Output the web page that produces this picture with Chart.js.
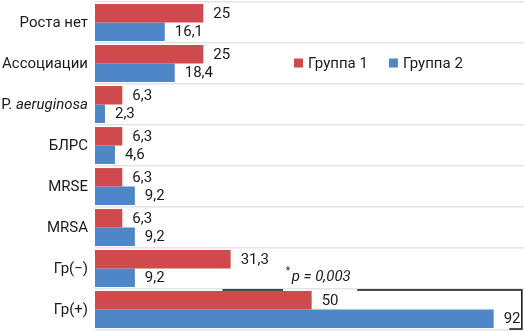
<!DOCTYPE html>
<html>
<head>
<meta charset="utf-8">
<script src="https://cdn.jsdelivr.net/npm/chart.js@4"></script>
<style>
html,body{margin:0;padding:0;background:#fff;}
#wrap{position:relative;width:524px;height:332px;}
</style>
</head>
<body>
<div id="wrap"><canvas id="c" width="524" height="332"></canvas></div>
<script>
const categories = ['Роста нет', 'Ассоциации', 'P. aeruginosa', 'БЛРС', 'MRSE', 'MRSA', 'Гр(−)', 'Гр(+)'];
const italicWords = ['aeruginosa'];
const seriesNames = ['Группа 1', 'Группа 2'];
const group1 = [25, 25, 6.3, 6.3, 6.3, 6.3, 31.3, 50];
const group2 = [16.1, 18.4, 2.3, 4.6, 9.2, 9.2, 9.2, 92];
const pNote = 'p = 0,003';

const FONT = 'Roboto, sans-serif';
const RED = '#d0494d';
const BLUE = '#4f86c8';

const fmt = v => String(v).replace('.', ',');

const yLabelPlugin = {
  id: 'yLabels',
  afterDraw(chart) {
    const ctx = chart.ctx, ys = chart.scales.y;
    ctx.save();
    ctx.fillStyle = '#1a1a1a';
    ctx.textBaseline = 'middle';
    const right = ys.right - 7;
    categories.forEach((lab, i) => {
      const y = ys.getPixelForValue(i) + 1;
      const parts = [];
      let rest = lab;
      italicWords.forEach(w => {
        const k = rest.indexOf(w);
        if (k >= 0) { parts.push([rest.slice(0, k), false]); parts.push([w, true]); rest = rest.slice(k + w.length); }
      });
      if (rest) parts.push([rest, false]);
      let total = 0;
      parts.forEach(p => { ctx.font = (p[1] ? 'italic ' : '') + '15px ' + FONT; total += ctx.measureText(p[0]).width; });
      let x = right - total;
      ctx.textAlign = 'left';
      parts.forEach(p => { ctx.font = (p[1] ? 'italic ' : '') + '15px ' + FONT; ctx.fillText(p[0], x, y); x += ctx.measureText(p[0]).width; });
    });
    ctx.restore();
  }
};

const valueLabelPlugin = {
  id: 'valueLabels',
  afterDatasetsDraw(chart) {
    const ctx = chart.ctx;
    ctx.save();
    ctx.font = '15px ' + FONT;
    ctx.fillStyle = '#1a1a1a';
    ctx.textAlign = 'left';
    ctx.textBaseline = 'middle';
    chart.data.datasets.forEach((ds, di) => {
      chart.getDatasetMeta(di).data.forEach((bar, i) => {
        ctx.fillText(fmt(ds.data[i]), bar.x + 10, bar.y + 1);
      });
    });
    ctx.restore();
  }
};

const legendPlugin = {
  id: 'innerLegend',
  afterDraw(chart) {
    const ctx = chart.ctx;
    ctx.save();
    ctx.font = '15px ' + FONT;
    ctx.textBaseline = 'middle';
    let x = 294, y = 63;
    chart.data.datasets.forEach(ds => {
      ctx.fillStyle = ds.backgroundColor;
      ctx.fillRect(x, y - 4.5, 9, 9);
      ctx.fillStyle = '#1a1a1a';
      ctx.fillText(ds.label, x + 14, y + 1);
      x += 14 + ctx.measureText(ds.label).width + 21;
    });
    ctx.restore();
  }
};

const bracketPlugin = {
  id: 'bracket',
  afterDraw(chart) {
    const ctx = chart.ctx, xs = chart.scales.x, ys = chart.scales.y;
    const yTop = (ys.getPixelForValue(6) + ys.getPixelForValue(7)) / 2 + 1;
    const yBot = ys.bottom - 1;
    const xr = xs.getPixelForValue(98.5);
    ctx.save();
    ctx.strokeStyle = '#111';
    ctx.lineWidth = 1.5;
    ctx.beginPath();
    ctx.moveTo(xs.getPixelForValue(29.4), yTop);
    ctx.lineTo(xs.getPixelForValue(43.4), yTop);
    ctx.moveTo(xs.getPixelForValue(60.5), yTop);
    ctx.lineTo(xr, yTop);
    ctx.lineTo(xr, yBot);
    ctx.lineTo(xs.getPixelForValue(95.6), yBot);
    ctx.stroke();
    ctx.fillStyle = '#1a1a1a';
    ctx.textBaseline = 'middle';
    const tx = xs.getPixelForValue(44.0);
    ctx.font = '10px ' + FONT;
    ctx.fillText('*', tx, yTop - 19);
    ctx.font = 'italic 15px ' + FONT;
    ctx.fillText(pNote, tx + 6, yTop - 13);
    ctx.restore();
  }
};

new Chart(document.getElementById('c'), {
  type: 'bar',
  data: {
    labels: categories,
    datasets: [
      { label: seriesNames[0], data: group1, backgroundColor: RED, borderWidth: 0 },
      { label: seriesNames[1], data: group2, backgroundColor: BLUE, borderWidth: 0 }
    ]
  },
  options: {
    indexAxis: 'y',
    responsive: false,
    animation: false,
    devicePixelRatio: 1,
    layout: { padding: { top: 2, bottom: 2, left: 0, right: 0 } },
    datasets: { bar: { categoryPercentage: 0.9, barPercentage: 1.0 } },
    plugins: { legend: { display: false }, tooltip: { enabled: false } },
    scales: {
      x: { display: false, min: 0, max: 99 },
      y: {
        offset: true,
        grid: { offset: true, color: '#e4e4e4', lineWidth: 1.5, drawTicks: false },
        border: { display: false },
        ticks: { display: false },
        afterFit(scale) { scale.width = 95; }
      }
    }
  },
  plugins: [yLabelPlugin, valueLabelPlugin, legendPlugin, bracketPlugin]
});
</script>
</body>
</html>
